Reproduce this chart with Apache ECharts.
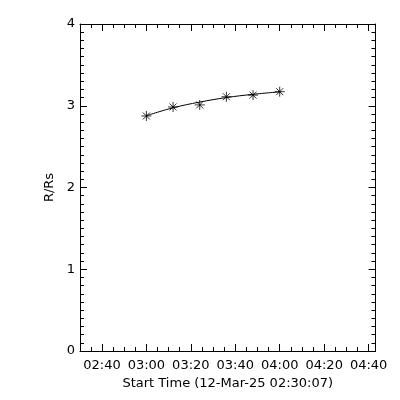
<!DOCTYPE html>
<html><head><meta charset="utf-8">
<script src="https://cdn.jsdelivr.net/npm/echarts@6/dist/echarts.min.js"></script>
<style>html,body{margin:0;padding:0;background:#fff}#c{width:400px;height:400px}</style>
</head><body><div id="c"></div>
<script>
// Observation times (12-Mar-25) and heights in solar radii
const obsTimes = ['03:00', '03:12', '03:24', '03:36', '03:48', '04:00'];
const heights = [2.875, 2.985, 3.01, 3.11, 3.13, 3.172];
// Fitted height curve read at the same times
const fitHeights = [2.878, 2.975, 3.045, 3.10, 3.14, 3.17];
// Axis tick labels
const xTickLabels = ['02:40', '03:00', '03:20', '03:40', '04:00', '04:20', '04:40'];
const yTickLabels = ['0', '1', '2', '3', '4'];
const startTime = '02:30:07';
const endTime = '04:43:06';
const xTitle = 'Start Time (12-Mar-25 02:30:07)';
const yTitle = 'R/Rs';

function toMin(s) { const p = s.split(':'); return (+p[0]) * 60 + (+p[1]) + (p[2] ? (+p[2]) / 60 : 0); }
function fmt(v) { const h = Math.floor(v / 60), m = Math.round(v - h * 60); return String(h).padStart(2, '0') + ':' + String(m).padStart(2, '0'); }

const xMin = toMin(startTime), xMax = toMin(endTime);
const majorVals = xTickLabels.map(toMin);
const minorVals = [];
for (let v = Math.ceil(xMin / 5) * 5; v <= xMax; v += 5) { if (majorVals.indexOf(v) < 0) minorVals.push(v); }

const font = 'DejaVu Sans';
const black = '#000';
const pts = obsTimes.map((t, i) => [toMin(t), heights[i]]);
const fit = obsTimes.map((t, i) => [toMin(t), fitHeights[i]]);

function xAx(pos, vals, len, major, labels) {
  return {
    type: 'value', position: pos, min: xMin, max: xMax, gridIndex: 0,
    axisLine: { show: major, onZero: false, lineStyle: { color: black, width: 1 } },
    axisTick: { show: true, inside: true, length: len, customValues: vals, lineStyle: { color: black, width: 1 } },
    axisLabel: labels ? { show: true, customValues: vals, formatter: fmt, color: black, fontFamily: font, fontSize: 13, margin: 8 } : { show: false },
    splitLine: { show: false },
    name: labels ? xTitle : '', nameLocation: 'middle', nameGap: 26,
    nameTextStyle: { color: black, fontFamily: font, fontSize: 13 }
  };
}
function yAx(pos, labels) {
  return {
    type: 'value', position: pos, min: 0, max: 4, interval: 1, gridIndex: 0,
    axisLine: { show: true, onZero: false, lineStyle: { color: black, width: 1 } },
    axisTick: { show: true, inside: true, length: 7, lineStyle: { color: black, width: 1 } },
    minorTick: { show: true, splitNumber: 10, length: 4, lineStyle: { color: black, width: 1 } },
    axisLabel: labels ? { show: true, formatter: v => yTickLabels[Math.round(v)], color: black, fontFamily: font, fontSize: 13, margin: 5 } : { show: false },
    splitLine: { show: false }, minorSplitLine: { show: false },
    name: labels ? yTitle : '', nameLocation: 'middle', nameGap: 21, nameRotate: 90,
    nameTextStyle: { color: black, fontFamily: font, fontSize: 13 }
  };
}

const chart = echarts.init(document.getElementById('c'), null, { renderer: 'canvas' });
chart.setOption({
  backgroundColor: '#fff',
  animation: false,
  grid: { left: 80, right: 24.5, top: 24, bottom: 49, containLabel: false },
  xAxis: [
    xAx('bottom', majorVals, 7, true, true),
    xAx('bottom', minorVals, 4, false, false),
    xAx('top', majorVals, 7, true, false),
    xAx('top', minorVals, 4, false, false)
  ],
  yAxis: [yAx('left', true), yAx('right', false)],
  series: [
    { type: 'line', xAxisIndex: 0, yAxisIndex: 0, data: fit, smooth: 0.4, showSymbol: false, symbol: 'none',
      lineStyle: { color: black, width: 1 } },
    { type: 'scatter', xAxisIndex: 0, yAxisIndex: 0, data: pts,
      symbol: 'path://M0,5L10,5M5,0L5,10M1.5,1.5L8.5,8.5M1.5,8.5L8.5,1.5', symbolSize: 10,
      itemStyle: { color: 'none', borderColor: black, borderWidth: 1 } }
  ]
});
</script>
</body></html>
